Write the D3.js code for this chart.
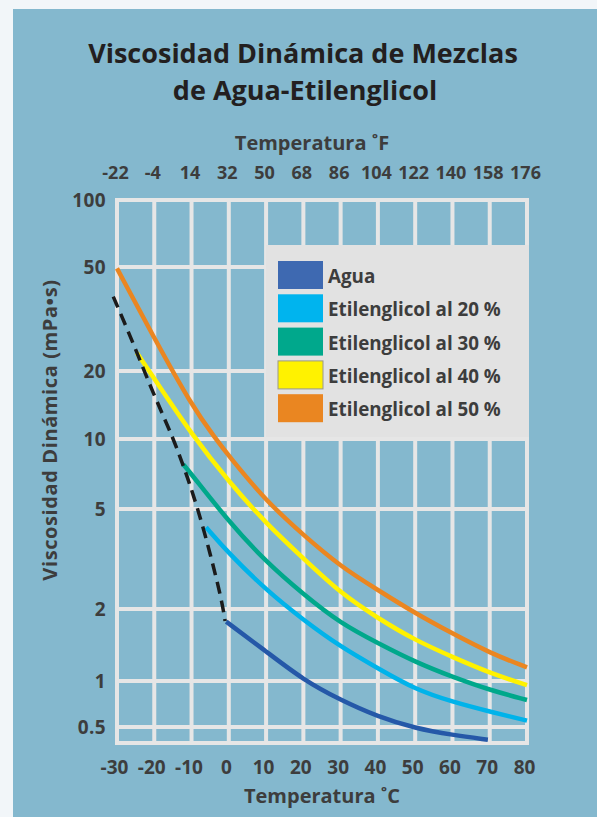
<!DOCTYPE html>
<html>
<head>
<meta charset="utf-8">
<script src="https://cdn.jsdelivr.net/npm/d3@7"></script>
<style>
  html, body { margin: 0; padding: 0; background: #f2f6f9; }
  svg { display: block; }
  text { font-family: "Open Sans", "Noto Sans", sans-serif; }
</style>
</head>
<body>
<svg id="chart" width="597" height="817"></svg>
<script>
// ---------------- DATA ----------------
const celsiusTicks = [-30, -20, -10, 0, 10, 20, 30, 40, 50, 60, 70, 80];
const fahrenheitTicks = [-22, -4, 14, 32, 50, 68, 86, 104, 122, 140, 158, 176];
const viscosityTicks = [100, 50, 20, 10, 5, 2, 1, 0.5];

const seriesNames = ["Agua", "Etilenglicol al 20 %", "Etilenglicol al 30 %", "Etilenglicol al 40 %", "Etilenglicol al 50 %"];

const aguaTemp = [-0.7, 10, 20, 30, 40, 50, 60, 69.5];
const aguaVisc = [1.77, 1.33, 1.01, 0.75, 0.584, 0.489, 0.436, 0.402];

const eg20Temp = [-6.1, 0, 10, 20, 30, 40, 50, 60, 70, 80];
const eg20Visc = [4.23, 3.33, 2.38, 1.80, 1.39, 1.13, 0.88, 0.73, 0.63, 0.55];

const eg30Temp = [-12.3, -10, 0, 10, 20, 30, 40, 50, 60, 70, 80];
const eg30Visc = [7.8, 7.05, 4.45, 3.08, 2.29, 1.74, 1.44, 1.20, 1.04, 0.873, 0.751];

const eg40Temp = [-24.7, -20, -10, 0, 10, 20, 30, 40, 50, 60, 70, 80];
const eg40Visc = [23.5, 18.5, 10.5, 6.55, 4.38, 3.18, 2.31, 1.83, 1.48, 1.26, 1.08, 0.94];

const eg50Temp = [-30, -20, -10, -3.5, 0, 10, 20, 30, 40, 50, 60, 70, 80];
const eg50Visc = [49.4, 26.7, 14.1, 10, 8.45, 5.41, 3.94, 2.95, 2.38, 1.92, 1.58, 1.31, 1.14];

const freezeTemp = [-31, -25.6, -20.3, -14.9, -11.3, -8.2, -5.0, -1.9, -1.0];
const freezeVisc = [38.5, 25.5, 15.9, 10.1, 7.0, 4.95, 3.33, 2.17, 1.78];

// ---------------- LAYOUT / STYLE ----------------
const colors = ["#2558a8", "#00b3ea", "#00a88b", "#fff200", "#ea8621"];
const legendColors = ["#3e69b1", "#00b4ee", "#00a88c", "#fff200", "#ea8621"];
const plot = { left: 117, right: 527, top: 200, bottom: 743 };
// the chart's vertical axis is log-like but with uneven spacing; stops measured as fractions of plot height
const yStopFrac = [0, 0.1234, 0.3149, 0.4401, 0.5691, 0.7532, 0.8858, 0.9705, 1];
const yBottomValue = 0.38;

const svg = d3.select("#chart");

// panel background
svg.append("rect").attr("x", 13).attr("y", 9).attr("width", 584).attr("height", 808).attr("fill", "#84b8ce");

const x = d3.scaleLinear().domain([-30, 80]).range([plot.left, plot.right]);
const H = plot.bottom - plot.top;
const y = d3.scaleLog()
  .domain([...viscosityTicks, yBottomValue])
  .range(yStopFrac.map(f => plot.top + f * H));

const textColor = "#3d3d3d";
const gridColor = "#e6e6e6";

// grid
const g = svg.append("g");
g.selectAll(".vg").data(celsiusTicks).join("line")
  .attr("x1", d => x(d)).attr("x2", d => x(d))
  .attr("y1", plot.top).attr("y2", plot.bottom)
  .attr("stroke", gridColor).attr("stroke-width", 4);
g.selectAll(".hg").data(viscosityTicks).join("line")
  .attr("x1", plot.left).attr("x2", plot.right)
  .attr("y1", d => y(d)).attr("y2", d => y(d))
  .attr("stroke", gridColor).attr("stroke-width", 4);
g.append("rect")
  .attr("x", plot.left).attr("y", plot.top)
  .attr("width", plot.right - plot.left).attr("height", plot.bottom - plot.top)
  .attr("fill", "none").attr("stroke", gridColor).attr("stroke-width", 4);

// axes (plain hyphen-minus labels, as in the original)
const plain = d => String(d);
const axisBottom = d3.axisBottom(x).tickValues(celsiusTicks).tickSize(0).tickPadding(0).tickFormat(plain);
const ab = svg.append("g").attr("transform", `translate(-3,${plot.bottom + 24})`).call(axisBottom);
const toC = f => (f - 32) * 5 / 9;
const xF = d3.scaleLinear().domain([-22, 176]).range([x(toC(-22)), x(toC(176))]);
const axisTop = d3.axisTop(xF).tickValues(fahrenheitTicks).tickSize(0).tickPadding(0).tickFormat(plain);
const at = svg.append("g").attr("transform", `translate(-2,${plot.top - 27})`).call(axisTop);
const axisLeft = d3.axisLeft(y).tickValues(viscosityTicks).tickSize(0).tickPadding(0).tickFormat(plain);
const al = svg.append("g").attr("transform", `translate(${plot.left - 11},0)`).call(axisLeft);

[ab, at, al].forEach(a => {
  a.select(".domain").remove();
  a.selectAll("text").attr("fill", textColor).attr("font-size", 19).attr("font-weight", 700)
    .attr("font-family", "'Open Sans', sans-serif");
});
al.selectAll("text").attr("letter-spacing", 0.4);
at.selectAll("text").attr("font-size", 18);
ab.selectAll("text").attr("dy", "0.35em").attr("y", 0);
at.selectAll("text").attr("dy", "0.35em").attr("y", 0);
al.selectAll("text").attr("dy", "0.36em").attr("x", 0);

// series
const series = [
  { t: aguaTemp, v: aguaVisc },
  { t: eg20Temp, v: eg20Visc },
  { t: eg30Temp, v: eg30Visc },
  { t: eg40Temp, v: eg40Visc },
  { t: eg50Temp, v: eg50Visc }
];
const line = d3.line().x(d => x(d[0])).y(d => y(d[1])).curve(d3.curveBasis);

svg.append("g").selectAll("path").data(series).join("path")
  .attr("d", s => line(s.t.map((t, i) => [t, s.v[i]])))
  .attr("fill", "none")
  .attr("stroke", (s, i) => colors[i])
  .attr("stroke-width", 4.5);

svg.append("path")
  .attr("d", line(freezeTemp.map((t, i) => [t, freezeVisc[i]])))
  .attr("fill", "none").attr("stroke", "#1b1b1b").attr("stroke-width", 3.5)
  .attr("stroke-dasharray", "12,7");

// legend
const lg = svg.append("g");
lg.append("rect").attr("x", 266).attr("y", 245).attr("width", 263).attr("height", 192).attr("fill", "#e2e2e2");
const rows = lg.selectAll("g.row").data(seriesNames).join("g")
  .attr("transform", (d, i) => `translate(278,${261 + i * 33.3})`);
rows.append("rect").attr("width", 45).attr("height", 28)
  .attr("fill", (d, i) => legendColors[i])
  .attr("stroke", (d, i) => i === 3 ? "#9a9a8a" : "none").attr("stroke-width", 1);
rows.append("text").attr("x", 50).attr("y", 15.5).attr("dy", "0.35em")
  .attr("fill", textColor).attr("font-size", 18.8).attr("font-weight", 700)
  .text(d => d);

// titles
svg.append("text").attr("x", 303).attr("y", 63).attr("text-anchor", "middle")
  .attr("font-size", 27).attr("font-weight", 700).attr("fill", "#231f20")
  .text("Viscosidad Dinámica de Mezclas");
svg.append("text").attr("x", 305).attr("y", 100).attr("text-anchor", "middle")
  .attr("font-size", 27).attr("font-weight", 700).attr("fill", "#231f20")
  .text("de Agua-Etilenglicol");

svg.append("text").attr("x", 312).attr("y", 143).attr("dy", "0.35em").attr("text-anchor", "middle")
  .attr("font-size", 20).attr("font-weight", 700).attr("fill", textColor)
  .text("Temperatura ˚F");
svg.append("text").attr("x", 322).attr("y", 796).attr("dy", "0.35em").attr("text-anchor", "middle")
  .attr("font-size", 20).attr("font-weight", 700).attr("fill", textColor)
  .text("Temperatura ˚C");
svg.append("text").attr("transform", "translate(50,430) rotate(-90)").attr("dy", "0.35em")
  .attr("text-anchor", "middle")
  .attr("font-size", 20).attr("font-weight", 700).attr("fill", textColor)
  .attr("letter-spacing", 0.6)
  .text("Viscosidad Dinámica (mPa•s)");
</script>
</body>
</html>
